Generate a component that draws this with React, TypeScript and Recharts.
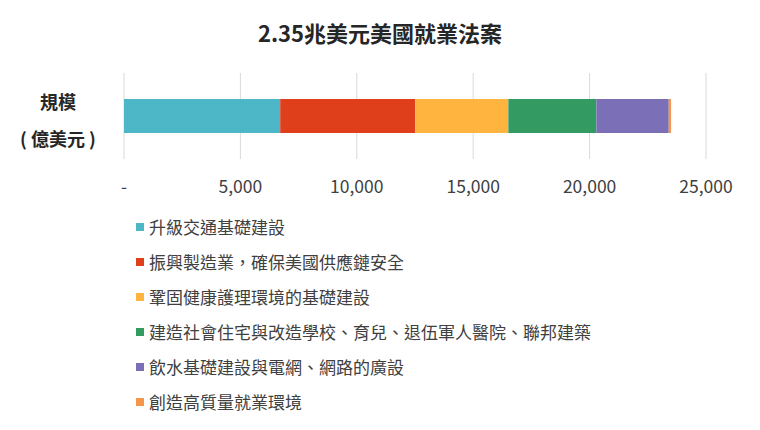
import React from 'react';
import { BarChart, Bar, XAxis, YAxis, CartesianGrid, Legend } from 'recharts';

const TITLE = '2.35兆美元美國就業法案';
const CATEGORY = '規模';
const CATEGORY_UNIT = '( 億美元 )';

const SERIES_NAMES = [
  '升級交通基礎建設',
  '振興製造業，確保美國供應鏈安全',
  '鞏固健康護理環境的基礎建設',
  '建造社會住宅與改造學校、育兒、退伍軍人醫院、聯邦建築',
  '飲水基礎建設與電網、網路的廣設',
  '創造高質量就業環境',
];
const SERIES_VALUES = [6710, 5800, 4000, 3780, 3110, 100];
const SERIES_COLORS = ['#4db6c7', '#e03f1c', '#feb43f', '#339a62', '#7b70b8', '#f5964a'];
const X_TICKS = [0, 5000, 10000, 15000, 20000, 25000];

const FONT = '"Noto Sans CJK TC", "Noto Sans", sans-serif';

const row: Record<string, string | number> = { name: CATEGORY };
SERIES_VALUES.forEach((v, i) => {
  row[`s${i}`] = v;
});
const data = [row];

const fmt = (v: number) => (v === 0 ? '-' : v.toLocaleString('en-US'));

const CategoryTick = ({ x, y }: any) => (
  <text x={x - 58} y={y} textAnchor="middle" fontFamily={FONT} fontWeight={700} fontSize={18} fill="#262626">
    <tspan x={x - 58} dy={-7}>{CATEGORY}</tspan>
    <tspan x={x - 58} dy={37}>{CATEGORY_UNIT}</tspan>
  </text>
);

const LegendList = () => (
  <div style={{ fontFamily: FONT }}>
    {SERIES_NAMES.map((n, i) => (
      <div key={n} style={{ display: 'flex', alignItems: 'center', height: 35 }}>
        <span style={{ width: 8, height: 8, background: SERIES_COLORS[i], marginRight: 5, marginLeft: 12 }} />
        <span style={{ fontSize: 17, color: '#404040' }}>{n}</span>
      </div>
    ))}
  </div>
);

export default function App() {
  return (
    <div
      lang="zh-TW"
      style={{ position: 'absolute', left: 0, top: 0, width: 760, height: 430, background: '#fff', fontFamily: FONT }}
    >
      <div
        style={{
          position: 'absolute',
          top: 16,
          left: 0,
          width: 760,
          textAlign: 'center',
          fontSize: 22,
          fontWeight: 700,
          color: '#262626',
        }}
      >
        {TITLE}
      </div>
      <BarChart
        width={760}
        height={430}
        data={data}
        layout="vertical"
        margin={{ top: 73, right: 54, bottom: 241, left: 0 }}
        barCategoryGap={26}
      >
        <CartesianGrid horizontal={false} stroke="#d9d9d9" />
        <XAxis
          type="number"
          domain={[0, 25000]}
          ticks={X_TICKS}
          tickFormatter={fmt}
          axisLine={false}
          tickLine={false}
          tickMargin={16}
          height={30}
          tick={{ fill: '#404040', fontSize: 17.5, fontFamily: FONT }}
        />
        <YAxis type="category" dataKey="name" width={124} axisLine={false} tickLine={false} tick={<CategoryTick />} />
        <Legend
          layout="vertical"
          align="center"
          verticalAlign="middle"
          content={<LegendList />}
          wrapperStyle={{ top: 209, left: 124, width: 620 }}
        />
        {SERIES_NAMES.map((n, i) => (
          <Bar key={n} dataKey={`s${i}`} name={n} stackId="a" fill={SERIES_COLORS[i]} isAnimationActive={false} />
        ))}
      </BarChart>
    </div>
  );
}
